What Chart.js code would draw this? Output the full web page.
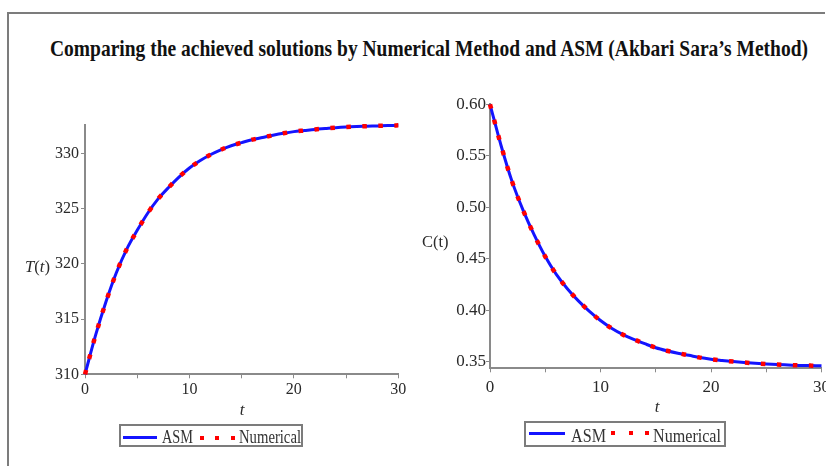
<!DOCTYPE html>
<html><head><meta charset="utf-8">
<script src="https://cdn.jsdelivr.net/npm/chart.js@4.4.1/dist/chart.umd.min.js"></script>
<style>
html,body{margin:0;padding:0;width:826px;height:466px;overflow:hidden;background:#fff;position:relative;}
#frame{position:absolute;left:7px;top:12px;width:816px;height:470px;border-left:2px solid #7c7c7c;border-top:2px solid #7c7c7c;}
.txt{position:absolute;white-space:nowrap;font-family:'Liberation Serif','Times New Roman',serif;color:#2b2b2b;display:inline-block;transform-origin:0 0;}
#title{left:50px;top:37px;font-size:23px;line-height:23px;font-weight:bold;color:#111;}
.wrap{position:absolute;top:0;}
.legend{position:absolute;border:2px solid #7c7c7c;box-sizing:border-box;}
.legend .ln{position:absolute;height:3px;background:#1414ff;}
.legend .dt{position:absolute;width:4px;height:4px;background:#ff0000;}
.legend .txt{color:#333;}
</style>
</head><body>
<div id="frame"></div>
<div id="title" class="txt" data-w="758">Comparing the achieved solutions by Numerical Method and ASM (Akbari Sara’s Method)</div>

<div class="wrap" style="left:0;width:420px;height:466px;"><canvas id="cT" width="420" height="466"></canvas></div>
<div class="wrap" style="left:430px;width:430px;height:466px;"><canvas id="cC" width="430" height="466"></canvas></div>

<div class="txt" id="labT" data-w="25" style="left:25px;top:258px;font-size:17px;line-height:17px;"><i>T</i>(<i>t</i>)</div>
<div class="txt" id="labC" data-w="26.6" style="left:422px;top:233px;font-size:17px;line-height:17px;">C(t)</div>
<div class="txt" id="labTx1" style="left:238px;top:401px;font-size:17px;line-height:17px;font-style:italic;">t</div>
<div class="txt" id="labTx2" style="left:653px;top:398px;font-size:17px;line-height:17px;font-style:italic;">t</div>

<div class="legend" style="left:119px;top:424px;width:184px;height:23px;">
  <div class="ln" style="left:2px;width:34px;top:9.5px;"></div>
  <div class="txt" data-w="31" style="left:40.5px;top:2px;font-size:18px;line-height:18px;">ASM</div>
  <div class="dt" style="left:78.7px;top:9.7px;"></div>
  <div class="dt" style="left:94.3px;top:9.7px;"></div>
  <div class="dt" style="left:109.7px;top:9.7px;"></div>
  <div class="txt" data-w="62" style="left:118px;top:2px;font-size:18px;line-height:18px;">Numerical</div>
</div>
<div class="legend" style="left:524px;top:421px;width:202px;height:26px;">
  <div class="ln" style="left:3px;width:36px;top:8.8px;"></div>
  <div class="txt" data-w="35" style="left:45px;top:2.8px;font-size:19px;line-height:19px;">ASM</div>
  <div class="dt" style="left:85px;top:8.3px;"></div>
  <div class="dt" style="left:103px;top:8.3px;"></div>
  <div class="dt" style="left:119px;top:8.3px;"></div>
  <div class="txt" data-w="68" style="left:127px;top:2.8px;font-size:19px;line-height:19px;">Numerical</div>
</div>

<script>
// ---- data ----
const timePoints = [0,1,2,3,4,5,6,7,8,9,10,11,12,13,14,15,16,17,18,19,20,21,22,23,24,25,26,27,28,29,30];
const asmT = [310.0,313.5,316.55,319.2,321.35,323.05,324.6,325.9,326.93,327.88,328.7,329.35,329.9,330.35,330.72,331.0,331.27,331.47,331.67,331.85,332.0,332.1,332.2,332.28,332.36,332.42,332.46,332.49,332.52,332.55,332.57];
const numericalT = [310.0,313.5,316.55,319.2,321.35,323.05,324.6,325.9,326.93,327.88,328.7,329.35,329.9,330.35,330.72,331.0,331.27,331.47,331.67,331.85,332.0,332.1,332.2,332.28,332.36,332.42,332.46,332.49,332.52,332.55,332.57];
const asmC = [0.600,0.560,0.5249,0.4970,0.4731,0.4521,0.4348,0.4209,0.4091,0.3989,0.3900,0.3825,0.3765,0.3717,0.3675,0.3636,0.3607,0.3583,0.3562,0.3540,0.3524,0.3512,0.3501,0.3492,0.3484,0.3477,0.3472,0.3468,0.3464,0.3462,0.3460];
const numericalC = [0.600,0.560,0.5249,0.4970,0.4731,0.4521,0.4348,0.4209,0.4091,0.3989,0.3900,0.3825,0.3765,0.3717,0.3675,0.3636,0.3607,0.3583,0.3562,0.3540,0.3524,0.3512,0.3501,0.3492,0.3484,0.3477,0.3472,0.3468,0.3464,0.3462,0.3460];
const timeTicks = [0,5,10,15,20,25,30];
const timeLabels = [0,10,20,30];
const tempTicks = [310,315,320,325,330];
const concTicks = [0.35,0.40,0.45,0.50,0.55,0.60];
const seriesNames = ['ASM','Numerical'];

// fit HTML texts
document.querySelectorAll('.txt[data-w]').forEach(el=>{
  const w = el.getBoundingClientRect().width;
  el.style.transform = 'scaleX(' + (parseFloat(el.dataset.w)/w) + ')';
});
['labTx1','labTx2'].forEach(id=>{
  const el=document.getElementById(id); const w=el.getBoundingClientRect().width;
  el.style.left = (parseFloat(el.style.left) + 4 - w/2) + 'px';
});

Chart.defaults.font.family = "'Liberation Serif','Times New Roman',serif";
Chart.defaults.color = '#2a2a2a';

function pts(ys){ return timePoints.map((t,i)=>({x:t,y:ys[i]})); }

function makeChart(id, asm, num, yTicks, yMin, yMax, fmt, geo){
  return new Chart(document.getElementById(id), {
    type:'line',
    data:{datasets:[
      {label:seriesNames[0], data:pts(asm), borderColor:'#1414ff', borderWidth:3, pointRadius:0, cubicInterpolationMode:'monotone', clip:false, order:2},
      {label:seriesNames[1], data:pts(num), borderColor:'#ff0000', borderWidth:4.5, borderDash:[4.5,11.5], borderCapStyle:'butt', pointRadius:0, cubicInterpolationMode:'monotone', clip:false, order:1}
    ]},
    options:{
      responsive:false, animation:false, devicePixelRatio:1,
      layout:{padding:{top:geo.top, right:geo.right, left:0, bottom:0}},
      plugins:{legend:{display:false}, title:{display:false}, tooltip:{enabled:false}},
      scales:{
        x:{type:'linear', min:0, max:30,
           afterBuildTicks:s=>{s.ticks = timeTicks.map(v=>({value:v}));},
           afterFit:s=>{s.height = geo.xh;},
           ticks:{font:{size:geo.fs}, padding:geo.xpad, maxRotation:0, autoSkip:false,
                  callback:v=> timeLabels.includes(v) ? String(v) : ''},
           grid:{drawOnChartArea:false, tickLength:4, tickColor:'#8a8a8a', tickWidth:1},
           border:{display:true, color:'#8a8a8a', width:2}},
        y:{type:'linear', min:yMin, max:yMax,
           afterBuildTicks:s=>{s.ticks = yTicks.map(v=>({value:v}));},
           afterFit:s=>{s.width = geo.yw;},
           ticks:{font:{size:geo.fs}, padding:geo.ypad, autoSkip:false, callback:fmt},
           grid:{drawOnChartArea:false, tickLength:4, tickColor:'#8a8a8a', tickWidth:1},
           border:{display:true, color:'#8a8a8a', width:2}}
      }
    }
  });
}

makeChart('cT', asmT, numericalT, tempTicks, 310, 332.6, v=>String(v),
  {top:125, right:21.7, xh:91.7, yw:85, fs:16, xpad:2, ypad:2});
makeChart('cC', asmC, numericalC, concTicks, 0.3436, 0.6, v=>Number(v).toFixed(2),
  {top:104.3, right:38.5, xh:97.7, yw:60, fs:17, xpad:5, ypad:0});
</script>
</body></html>
